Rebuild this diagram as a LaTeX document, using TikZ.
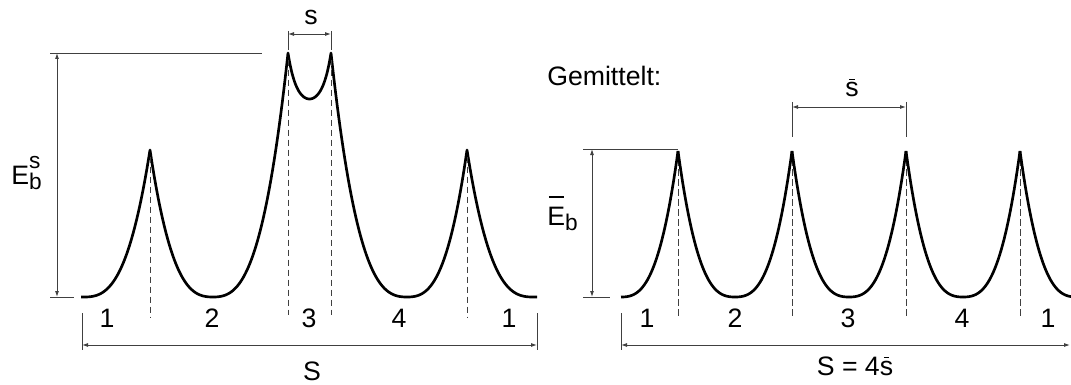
\documentclass[tikz,border=0pt]{standalone}
\usepackage{fontspec}
\setmainfont{Liberation Sans}
\usetikzlibrary{arrows.meta,positioning}

\newcommand{\subsz}{\fontsize{17}{17}\selectfont}
\newcommand{\sbar}{\leavevmode\rlap{\hbox to 0.5em{\hss\raisebox{0.62em}{\rule{0.2em}{0.07em}}\hss}}s}
\newcommand{\Ebar}{\leavevmode\rlap{\hbox to 0.667em{\hss\raisebox{1.0em}{\rule{0.55em}{0.07em}}\hss}}E}

\begin{document}
\begin{tikzpicture}[
  x=0.75pt, y=-0.75pt,
  font=\fontsize{20}{24}\selectfont,
  declare function={g(\t)=\t*\t*(0.15+0.85*\t);},
  curve/.style={line width=2pt, line join=round},
  dimline/.style={line width=0.7pt, black!75},
  dimarr/.style={dimline, {Latex[length=4.5pt,width=3pt]}-{Latex[length=4.5pt,width=3pt]}},
  peakline/.style={line width=0.7pt, black!75, dash pattern=on 5pt off 2.5pt},
  lbl/.style={anchor=base, inner sep=0pt}
]
\useasboundingbox (0,0) rectangle (1071,385);

% Left panel
\coordinate (P1) at (150,150);
\coordinate (P2) at (288,53);
\coordinate (P3) at (331,53);
\coordinate (P4) at (467,150);
\coordinate (lo) at (0,317);
\coordinate (loD) at (0,315);

\draw[curve] (81,297)
  -- plot[domain=84:150, samples=40] (\x,{297-147*g((\x-84)/66)})
  -- plot[domain=150:213, samples=40] (\x,{297-147*g((213-\x)/63)})
  -- plot[domain=213:288, samples=50] (\x,{297-244*g((\x-213)/75)})
  -- plot[domain=288:331, samples=40] (\x,{99-46*(cosh(2.5*(\x-309.5)/21.5)-1)/5.132})
  -- plot[domain=331:407, samples=50] (\x,{297-244*g((407-\x)/76)})
  -- plot[domain=407:467, samples=40] (\x,{297-147*g((\x-407)/60)})
  -- plot[domain=467:533, samples=40] (\x,{297-147*g((533-\x)/66)})
  -- (537,297);

\draw[peakline] ([yshift=-5]P1) -- (P1 |- lo);
\draw[peakline] ([yshift=-5]P2) -- (P2 |- loD);
\draw[peakline] ([yshift=-5]P3) -- (P3 |- loD);
\draw[peakline] ([yshift=-5]P4) -- (P4 |- lo);

% height E_b^s
\coordinate (EsT) at (57,53);
\coordinate (EsB) at (57,297);
\draw[dimline] (50,53) coordinate (EsTl) -- (262,53) coordinate (EsTr);
\draw[dimline] (50,297) coordinate (EsBl) -- (74,297) coordinate (EsBr);
\draw[dimarr] (EsB) -- (EsT);
\node[anchor=base west, inner sep=0pt] (EsLbl) at (11,184)
  {E\rlap{\raisebox{0.6em}{\subsz s}}\raisebox{-0.22em}{\subsz b}};

% distance s
\coordinate (sL) at (288,34);
\coordinate (sR) at (331,34);
\draw[dimline] (288,31) -- (288,50);
\draw[dimline] (331,31) -- (331,50);
\draw[dimarr] (sL) -- (sR);
\node[lbl] (sLbl) at (311,25) {s};

% cells
\foreach \xx/\nn [count=\i] in {107/1, 212/2, 309/3, 399/4, 509/1}
  \node[lbl] (cL\i) at (\xx,327) {\nn};

% length S
\coordinate (SL) at (82,345);
\coordinate (SR) at (537,345);
\draw[dimline] (82,313) -- (82,350);
\draw[dimline] (537,313) -- (537,350);
\draw[dimarr] (SL) -- (SR);
\node[lbl] (SLbl) at (312,380) {S};

% Right panel
\node[anchor=base west, inner sep=0pt] (avg) at (547,86) {Gemittelt:};

\foreach \p [count=\i] in {678,792,906,1020} {
  \coordinate (Q\i) at (\p,151);
  \draw[curve] plot[domain=\p-57:\p, samples=40] (\x,{297-146*g((\x-\p+57)/57)});
  \draw[peakline] ([yshift=-6]Q\i) -- (Q\i |- lo);
}
\foreach \p in {678,792,906}
  \draw[curve] plot[domain=\p:\p+57, samples=40] (\x,{297-146*g((\p+57-\x)/57)});
\draw[curve] plot[domain=1020:1071, samples=40] (\x,{297-146*g((1077-\x)/57)});

% height E_b mean
\coordinate (EmT) at (592,149);
\coordinate (EmB) at (592,297);
\draw[dimline] (583,149) -- (678,149);
\draw[dimline] (583,297) -- (610,297);
\draw[dimarr] (EmB) -- (EmT);
\node[anchor=base west, inner sep=0pt] (EmLbl) at (547,225)
  {\Ebar\raisebox{-0.2em}{\subsz b}};

% distance s mean
\coordinate (smL) at (792,107);
\coordinate (smR) at (906,107);
\draw[dimline] (792,102) -- (792,137);
\draw[dimline] (906,102) -- (906,137);
\draw[dimarr] (smL) -- (smR);
\node[lbl] (smLbl) at (852,97) {\sbar};

% cells
\foreach \xx/\nn [count=\i] in {647/1, 735/2, 848/3, 962/4, 1048/1}
  \node[lbl] (cR\i) at (\xx,327) {\nn};

% length S = 4 s mean
\coordinate (SmL) at (621,345);
\coordinate (SmR) at (1070,345);
\draw[dimline] (621,313) -- (621,350);
\draw[dimarr] (SmL) -- (SmR);
\node[lbl] (SmLbl) at (855,375) {S = 4\sbar};

\end{tikzpicture}
\end{document}
